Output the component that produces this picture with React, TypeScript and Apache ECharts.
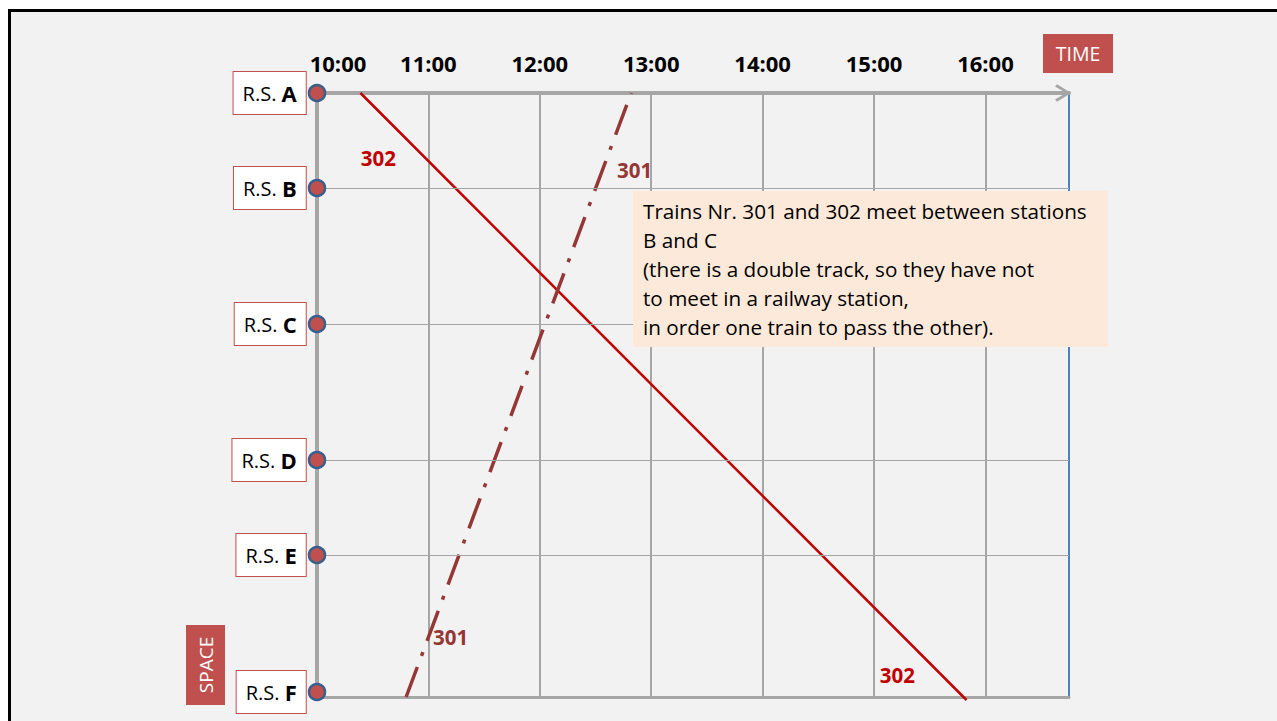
import React, { useEffect, useRef } from 'react';
import * as echarts from 'echarts';

const FONT = 'Open Sans';

const stationNames = ['A', 'B', 'C', 'D', 'E', 'F'];
const stationPos = [0, 95, 231, 367, 462, 599];

const hourValues = [10, 11, 12, 13, 14, 15, 16];
const hourLabels = ['10:00', '11:00', '12:00', '13:00', '14:00', '15:00', '16:00'];
const timeMin = 10;
const timeMax = 16.75;
const spaceMax = 604;

const train302Time = [10.39, 15.83];
const train302Pos = [0, 607];
const train301Time = [10.8, 12.82];
const train301Pos = [604, 0];

const trainLabelNames = ['302', '302', '301', '301'];
const trainLabelTime = [10.55, 15.21, 12.85, 11.2];
const trainLabelPos = [65, 582, 77, 544];

const noteLines = [
  'Trains Nr. 301 and 302 meet between stations',
  'B and C',
  '(there is a double track, so they have not',
  'to meet in a railway station,',
  'in order one train to pass the other).',
];

const COLOR_302 = '#c00000';
const COLOR_301 = '#953735';

export default function App() {
  const ref = useRef<HTMLDivElement>(null);

  useEffect(() => {
    document.body.style.margin = '0';
    document.body.style.overflow = 'hidden';
    if (!ref.current) return;
    const chart = echarts.init(ref.current, undefined, { renderer: 'svg' });

    const splitColors = hourValues.map(() => '#a6a6a6').concat(['#4f81bd']);

    const option: any = {
      animation: false,
      grid: { left: 317, top: 93, width: 752, height: 604 },
      xAxis: [
        {
          type: 'value',
          position: 'top',
          min: timeMin,
          max: timeMax,
          interval: 1,
          axisLine: {
            show: true,
            onZero: false,
            lineStyle: { color: '#a6a6a6', width: 4 },
            symbol: ['none', 'path://M50,0 L100,80 L88,92 L50,28 L12,92 L0,80 Z'],
            symbolSize: [18, 16],
            symbolOffset: [0, -6],
          },
          axisTick: { show: false },
          axisLabel: {
            margin: 19,
            fontFamily: FONT,
            fontSize: 22,
            fontWeight: 'bold',
            color: '#000',
            showMaxLabel: false,
            formatter: (v: number) => {
              const i = hourValues.indexOf(v);
              if (i < 0) return '';
              return i === 0 ? `{m|${hourLabels[i]}}` : hourLabels[i];
            },
            rich: {
              m: {
                fontFamily: FONT,
                fontSize: 22,
                fontWeight: 'bold',
                color: '#000',
                padding: [0, 0, 0, 42],
              },
            },
          },
          splitLine: { show: true, lineStyle: { color: splitColors, width: 2 } },
        },
        {
          type: 'value',
          position: 'bottom',
          min: timeMin,
          max: timeMax,
          axisLine: { show: true, onZero: false, lineStyle: { color: '#a6a6a6', width: 3 } },
          axisTick: { show: false },
          axisLabel: { show: false },
          splitLine: { show: false },
        },
      ],
      yAxis: {
        type: 'value',
        inverse: true,
        min: 0,
        max: spaceMax,
        axisLine: { show: true, onZero: false, lineStyle: { color: '#a6a6a6', width: 4 } },
        axisTick: { show: false },
        axisLabel: { show: false },
        splitLine: { show: false },
      },
      series: [
        {
          type: 'line',
          xAxisIndex: 0,
          data: train302Time.map((t, i) => [t, train302Pos[i]]),
          symbol: 'none',
          clip: false,
          lineStyle: { color: COLOR_302, width: 2.5 },
          z: 3,
        },
        {
          type: 'line',
          xAxisIndex: 0,
          data: train301Time.map((t, i) => [t, train301Pos[i]]),
          symbol: 'none',
          clip: false,
          lineStyle: { color: COLOR_301, width: 3.5, type: [32, 12, 4, 12], cap: 'butt' },
          z: 3,
        },
        {
          type: 'scatter',
          xAxisIndex: 0,
          clip: false,
          data: stationPos.map((p, i) => ({ value: [timeMin, p], name: stationNames[i] })),
          symbolSize: 16,
          itemStyle: { color: '#c0504d', borderColor: '#3a5f8b', borderWidth: 2.5, opacity: 1 },
          z: 5,
          label: {
            show: true,
            position: 'left',
            distance: 2,
            formatter: (p: any) => `{n|R.S. }{b|${p.name}}`,
            backgroundColor: '#ffffff',
            borderColor: '#c0504d',
            borderWidth: 1,
            padding: [8, 9, 8, 9],
            rich: {
              n: { fontFamily: FONT, fontSize: 20, color: '#000', lineHeight: 26 },
              b: { fontFamily: FONT, fontSize: 22, fontWeight: 'bold', color: '#000', lineHeight: 26 },
            },
          },
          markLine: {
            silent: true,
            symbol: ['none', 'none'],
            label: { show: false },
            lineStyle: { color: '#a6a6a6', width: 1, type: 'solid', opacity: 1 },
            data: stationPos.slice(1, 5).map((p) => ({ yAxis: p })),
          },
        },
        {
          type: 'scatter',
          xAxisIndex: 0,
          clip: false,
          symbolSize: 0,
          z: 4,
          itemStyle: { opacity: 1 },
          data: trainLabelNames.map((n, i) => ({
            name: n,
            value: [trainLabelTime[i], trainLabelPos[i]],
            label: { color: n === '302' ? COLOR_302 : COLOR_301 },
          })),
          label: {
            show: true,
            position: 'inside',
            formatter: '{b}',
            fontFamily: FONT,
            fontSize: 20.5,
            fontWeight: 'bold',
          },
        },
      ],
      graphic: [
        {
          type: 'rect',
          z: 100,
          shape: { x: 633, y: 191, width: 475, height: 156 },
          style: { fill: '#fde9d9' },
        },
        {
          type: 'text',
          z: 101,
          x: 643,
          y: 196,
          style: {
            text: noteLines.join('\n'),
            fontFamily: FONT,
            fontSize: 20.7,
            lineHeight: 29,
            fill: '#000',
          },
        },
        {
          type: 'rect',
          z: 100,
          shape: { x: 1043, y: 34, width: 70, height: 39 },
          style: { fill: '#c0504d' },
        },
        {
          type: 'text',
          z: 101,
          x: 1078,
          y: 53.5,
          style: {
            text: 'TIME',
            fontFamily: FONT,
            fontSize: 19.5,
            fill: '#fff',
            align: 'center',
            verticalAlign: 'middle',
          },
        },
        {
          type: 'rect',
          z: 100,
          shape: { x: 186, y: 625, width: 39, height: 80 },
          style: { fill: '#c0504d' },
        },
        {
          type: 'text',
          z: 101,
          x: 205.5,
          y: 665,
          rotation: Math.PI / 2,
          style: {
            text: 'SPACE',
            fontFamily: FONT,
            fontSize: 19,
            fill: '#fff',
            align: 'center',
            verticalAlign: 'middle',
          },
        },
      ],
    };

    chart.setOption(option);
    return () => chart.dispose();
  }, []);

  return (
    <div style={{ position: 'relative', width: 1277, height: 721, background: '#fff', overflow: 'hidden' }}>
      <div
        style={{
          position: 'absolute',
          left: 8,
          top: 9,
          right: -10,
          bottom: -10,
          borderTop: '3px solid #000',
          borderLeft: '3px solid #000',
          background: '#f2f2f2',
        }}
      />
      <div ref={ref} style={{ position: 'absolute', left: 0, top: 0, width: 1277, height: 721 }} />
    </div>
  );
}
